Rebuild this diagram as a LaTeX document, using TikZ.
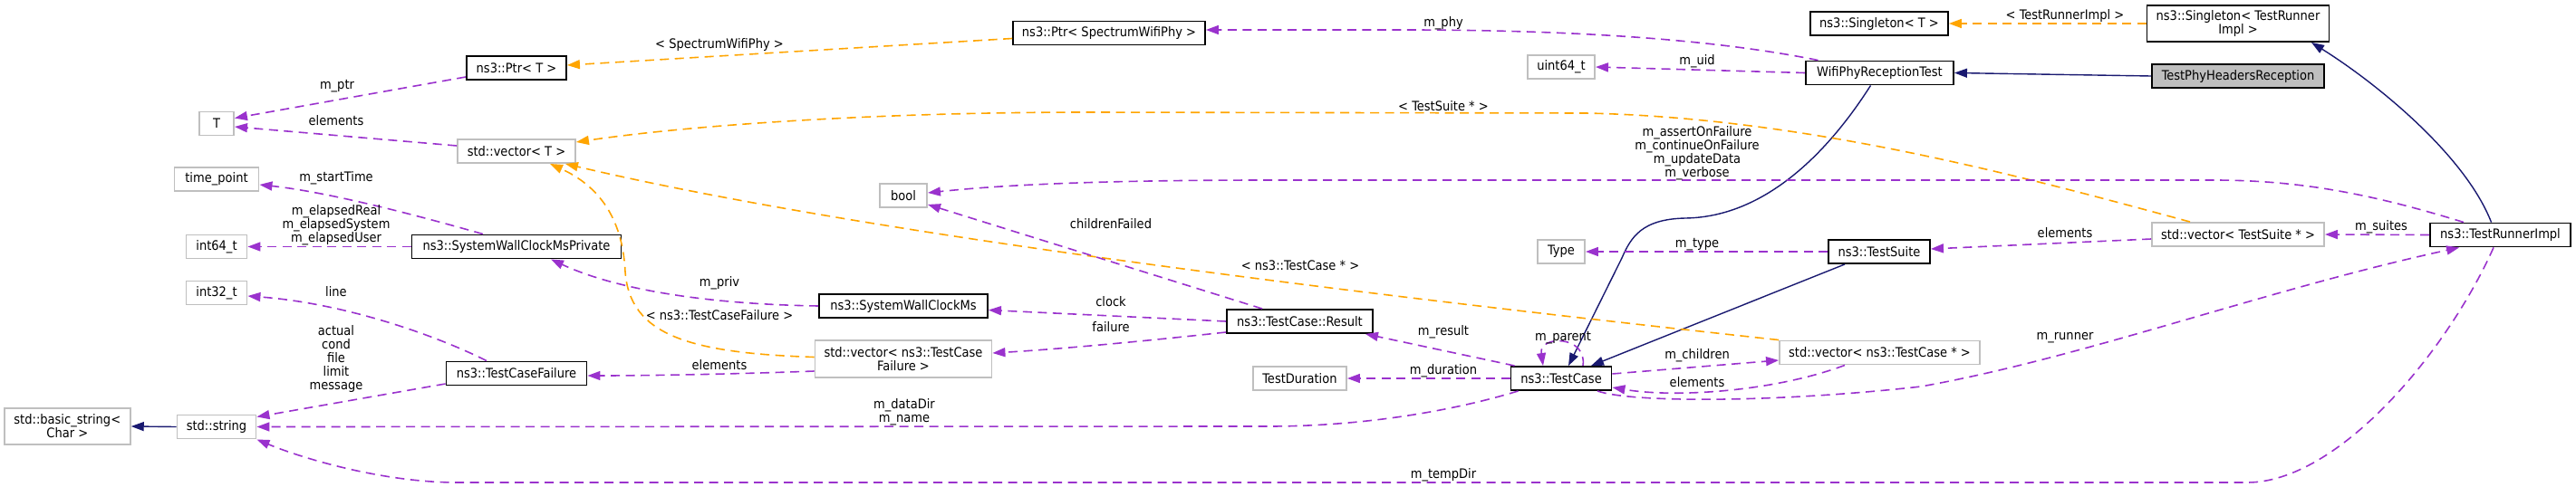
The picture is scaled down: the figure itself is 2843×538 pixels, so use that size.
\documentclass[tikz,border=0pt]{standalone}
\usepackage{fontspec}
\setmainfont{DejaVu Sans Condensed}
\usetikzlibrary{arrows.meta}
\definecolor{usagecol}{HTML}{9A32CD}
\definecolor{tmplcol}{HTML}{FFA500}
\definecolor{inhcol}{HTML}{191970}
\definecolor{extcol}{HTML}{BFBFBF}
\tikzset{
    cls/.style = {draw=black, line width=1.9pt, inner sep=0pt, minimum height=26pt, align=center},
    extcls/.style = {cls, draw=extcol},
    curcls/.style = {cls, fill=extcol},
    lbl/.style = {inner sep=0pt, align=center},
    usage/.style = {draw=usagecol, line width=1.6pt, dash pattern=on 10pt off 6.5pt, ->},
    tmpl/.style = {usage, draw=tmplcol},
    inherit/.style = {draw=inhcol, line width=1.4pt, ->},
    >={Triangle[length=14pt, width=10pt]}
}

\begin{document}
\begin{tikzpicture}[x=1pt, y=-1pt, font=\fontsize{14.5}{15}\selectfont]
        \useasboundingbox (0,0) rectangle (2843,538);
        % classes
        \node[cls, minimum width=110pt] (ptrT) at (570,75) {ns3::Ptr< T >};
        \node[extcls, minimum width=38pt] (T) at (239,136.5) {T};
        \node[extcls, minimum width=130pt] (vecT) at (570,167) {std::vector< T >};
        \node[extcls, minimum width=93pt] (timepoint) at (239,198) {time\_point};
        \node[extcls, minimum width=67pt] (int64) at (239,272.5) {int64\_t};
        \node[cls, minimum width=231pt] (swcmp) at (570,272.5) {ns3::SystemWallClockMsPrivate};
        \node[extcls, minimum width=67pt] (int32) at (239,323.5) {int32\_t};
        \node[cls, minimum width=155pt] (tcf) at (570,412.5) {ns3::TestCaseFailure};
        \node[extcls, minimum width=139pt, minimum height=40pt] (basicstr) at (74.3,471) {std::basic\_string<\\Char >};
        \node[extcls, minimum width=87pt] (string) at (239,471.5) {std::string};
        \node[cls, minimum width=212pt] (ptrswp) at (1224,36.5) {ns3::Ptr< SpectrumWifiPhy >};
        \node[extcls, minimum width=52pt] (bool) at (997,216) {bool};
        \node[cls, minimum width=186pt] (swcm) at (997,338) {ns3::SystemWallClockMs};
        \node[extcls, minimum width=195pt, minimum height=41pt] (vectcf) at (997,396.5) {std::vector< ns3::TestCase\\Failure >};
        \node[cls, minimum width=161pt] (result) at (1434.5,355) {ns3::TestCase::Result};
        \node[extcls, minimum width=103pt] (duration) at (1434.5,418) {TestDuration};
        \node[extcls, minimum width=52pt] (type) at (1723,278) {Type};
        \node[cls, minimum width=111pt] (testcase) at (1723,418) {ns3::TestCase};
        \node[extcls, minimum width=74pt] (uint64) at (1723,74) {uint64\_t};
        \node[cls, minimum width=163pt] (wifi) at (2074.5,80.5) {WifiPhyReceptionTest};
        \node[cls, minimum width=152pt] (singT) at (2074,26) {ns3::Singleton< T >};
        \node[cls, minimum width=112pt] (suite) at (2074,278) {ns3::TestSuite};
        \node[extcls, minimum width=221pt] (vectc) at (2074.5,389.5) {std::vector< ns3::TestCase * >};
        \node[cls, minimum width=201pt, minimum height=40pt] (singTRI) at (2470,26) {ns3::Singleton< TestRunner\\Impl >};
        \node[curcls, minimum width=190pt] (headers) at (2470,84) {TestPhyHeadersReception};
        \node[extcls, minimum width=190pt] (vects) at (2470,259) {std::vector< TestSuite * >};
        \node[cls, minimum width=155pt] (runner) at (2759.5,259.5) {ns3::TestRunnerImpl};
        % inheritance
        \path[inherit] (headers.west) -- (wifi.east);
        \path[inherit] ([xshift=-10pt]wifi.south) .. controls (2010,180) and (1940,240) .. (1860,241) .. controls (1812,242) and (1800,262) .. (1790,285) -- ([xshift=8pt]testcase.north);
        \path[inherit] ([xshift=-38pt]suite.south) -- ([xshift=33pt]testcase.north);
        \path[inherit] ([xshift=-10pt]runner.north) .. controls (2720,170) and (2620,90) .. ([xshift=81pt]singTRI.south);
        \path[inherit] (string.west) -- (basicstr.east);
        % template instances
        \path[tmpl] (singTRI.west) -- (singT.east) node[lbl] at (2279,17) {< TestRunnerImpl >};
        \path[tmpl] ([yshift=-6pt]ptrswp.west) -- ([yshift=3pt]ptrT.east) node[lbl] at (794,49) {< SpectrumWifiPhy >};
        \path[tmpl] ([xshift=-53pt]vects.north) .. controls (2250,200) and (2000,130) .. (1750,125) -- (1200,124) .. controls (950,124) and (750,140) .. ([yshift=10pt]vecT.east) node[lbl] at (1593,117) {< TestSuite * >};
        \path[tmpl] (vectc.north west) .. controls (1500,325) and (950,258) .. ([xshift=-12pt]vecT.south east) node[lbl] at (1435,293) {< ns3::TestCase * >};
        \path[tmpl] ([yshift=2pt]vectcf.west) .. controls (760,390) and (695,370) .. (690,300) .. controls (687,240) and (660,205) .. ([xshift=37pt]vecT.south) node[lbl] at (794,348) {< ns3::TestCaseFailure >};
        % members
        \path[usage] ([xshift=-68pt]wifi.north) .. controls (1900,45) and (1750,33) .. (1550,33) -- ([yshift=3.5pt]ptrswp.east) node[lbl] at (1593,26) {m\_phy};
        \path[usage] (wifi.west) -- (uint64.east) node[lbl] at (1873,68) {m\_uid};
        \path[usage] ([yshift=-10pt]ptrT.west) -- ([yshift=6pt]T.east) node[lbl] at (372,95) {m\_ptr};
        \path[usage] ([yshift=6pt]vecT.west) -- ([yshift=-3.5pt]T.east) node[lbl] at (371,133) {elements};
        \path[usage] ([xshift=-37pt]swcmp.north) .. controls (450,235) and (360,212) .. ([yshift=-6pt]timepoint.east) node[lbl] at (371,197) {m\_startTime};
        \path[usage] (swcmp.west) -- (int64.east) node[lbl] at (371,249) {m\_elapsedReal\\m\_elapsedSystem\\m\_elapsedUser};
        \path[usage] (swcm.west) .. controls (780,336) and (680,320) .. ([xshift=38pt]swcmp.south) node[lbl] at (794,313) {m\_priv};
        \path[usage] (result.west) -- ([yshift=-4.5pt]swcm.east) node[lbl] at (1226,333) {clock};
        \path[usage] ([xshift=-41.5pt]result.north) -- ([yshift=4pt]bool.south east) node[lbl] at (1226,247) {childrenFailed};
        \path[usage] ([yshift=-12pt]result.west) .. controls (1280,375) and (1180,385) .. ([yshift=6.5pt]vectcf.east) node[lbl] at (1226,361) {failure};
        \path[usage] ([yshift=-13.5pt]vectcf.west) .. controls (820,413) and (720,415) .. ([yshift=-2.5pt]tcf.east) node[lbl] at (794,403) {elements};
        \path[usage] ([xshift=-33pt]tcf.north) .. controls (480,370) and (380,335) .. ([yshift=-3.5pt]int32.east) node[lbl] at (371,322) {line};
        \path[usage] ([yshift=-11.5pt]tcf.west) -- ([yshift=11pt]string.east) node[lbl] at (371,396) {actual\\cond\\file\\limit\\message};
        \path[usage] ([xshift=-47.5pt]testcase.south) .. controls (1600,455) and (1500,471) .. (1400,471) -- (string.east) node[lbl] at (998,455) {m\_dataDir\\m\_name};
        \path[usage] ([xshift=-7.5pt]runner.south) .. controls (2700,390) and (2580,533) .. (2480,533) -- (505,533) .. controls (420,533) and (330,505) .. (string.south east) node[lbl] at (1593,525) {m\_tempDir};
        \path[usage] ([xshift=-40.5pt]runner.north) .. controls (2620,215) and (2540,199) .. (2443,199) -- (1400,199) .. controls (1200,199) and (1100,205) .. ([yshift=3pt]bool.east) node[lbl] at (1873,169) {m\_assertOnFailure\\m\_continueOnFailure\\m\_updateData\\m\_verbose};
        \path[usage] ([xshift=5pt]testcase.north west) -- ([xshift=-9pt]result.south east) node[lbl] at (1593,367) {m\_result};
        \path[usage] (testcase.west) -- (duration.east) node[lbl] at (1593,410) {m\_duration};
        \path[usage] ([xshift=24pt]testcase.north) .. controls (1752,370) and (1698,370) .. ([xshift=-20pt]testcase.north) node[lbl] at (1725,373) {m\_parent};
        \path[usage] ([yshift=5pt]testcase.east) -- ([yshift=-8.5pt]vectc.west) node[lbl] at (1873,393) {m\_children};
        \path[usage] ([xshift=-38.5pt]vectc.south) .. controls (1960,432) and (1850,440) .. ([yshift=-10pt]testcase.east) node[lbl] at (1873,422) {elements};
        \path[usage] ([xshift=40pt]testcase.south) .. controls (1800,445) and (1960,445) .. (2120,427) .. controls (2300,395) and (2500,320) .. ([xshift=33pt]runner.south west) node[lbl] at (2279,373) {m\_runner};
        \path[usage] (suite.west) -- (type.east) node[lbl] at (1873,270) {m\_type};
        \path[usage] ([yshift=-5pt]vects.west) -- ([yshift=3pt]suite.east) node[lbl] at (2279,257) {elements};
        \path[usage] (runner.west) -- (vects.east) node[lbl] at (2628,251) {m\_suites};
    \end{tikzpicture}
\end{document}
